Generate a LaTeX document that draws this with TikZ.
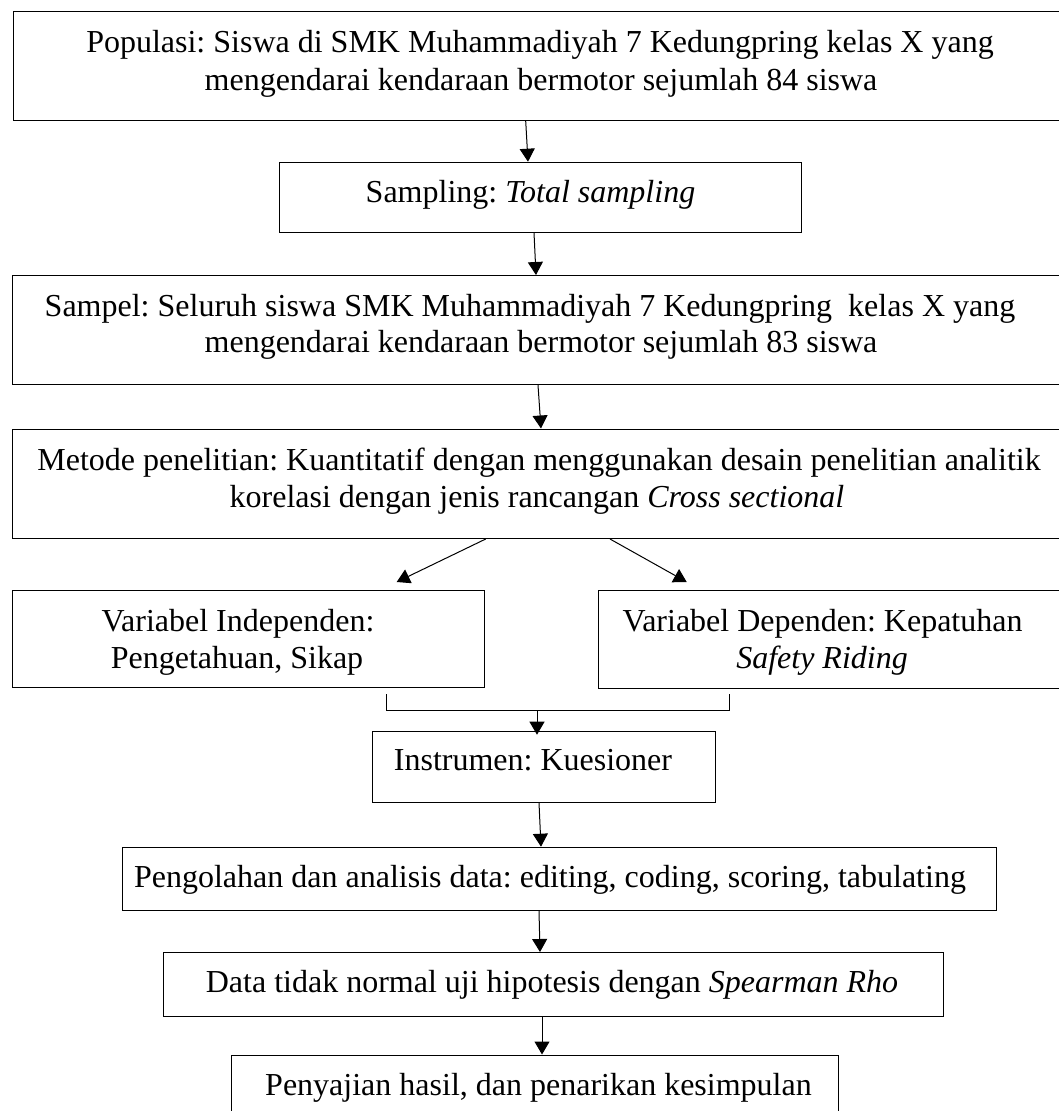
\documentclass[tikz,border=0pt]{standalone}
\usepackage{fontspec}
\setmainfont{Liberation Serif}
\usetikzlibrary{arrows.meta}
\frenchspacing
\begin{document}
\begin{tikzpicture}[x=1pt,y=-1pt,
  box/.style={draw, line width=1pt, inner sep=0pt, anchor=north west},
  txt/.style={anchor=base, inner sep=0pt, font=\fontsize{32}{38}\selectfont},
  lin/.style={line width=1pt},
  arr/.style={-{Triangle[length=13pt,width=15pt]}, line width=1pt}]
\useasboundingbox (0,0) rectangle (1059,1111);

% boxes
\node[box, minimum width=1048.7pt, minimum height=109.3pt] (b1) at (13.3,10.7) {};
\node[box, minimum width=521.7pt, minimum height=70pt] (b2) at (279,161.7) {};
\node[box, minimum width=1050pt, minimum height=109pt] (b3) at (12,275) {};
\node[box, minimum width=1050.5pt, minimum height=109.5pt] (b4) at (11.5,428.5) {};
\node[box, minimum width=472.3pt, minimum height=97pt] (b5l) at (11.7,590) {};
\node[box, minimum width=464.3pt, minimum height=97.5pt] (b5r) at (597.7,590) {};
\node[box, minimum width=343pt, minimum height=71pt] (b6) at (372,730.7) {};
\node[box, minimum width=873.9pt, minimum height=63.3pt] (b7) at (121.8,846.7) {};
\node[box, minimum width=780pt, minimum height=64pt] (b8) at (162.7,952) {};
\node[box, minimum width=607pt, minimum height=62pt] (b9) at (231,1054.5) {};

% texts
\node[txt] (t1a) at (540,52) {Populasi: Siswa di SMK Muhammadiyah 7 Kedungpring kelas X yang};
\node[txt] (t1b) at (541,90) {mengendarai kendaraan bermotor sejumlah 84 siswa};
\node[txt] (t2) at (530.5,202) {Sampling: \textit{Total sampling}};
\node[txt] (t3a) at (530,316) {Sampel: Seluruh siswa SMK Muhammadiyah 7 Kedungpring\ \ kelas X yang};
\node[txt] (t3b) at (541,352) {mengendarai kendaraan bermotor sejumlah 83 siswa};
\node[txt] (t4a) at (539,470) {Metode penelitian: Kuantitatif dengan menggunakan desain penelitian analitik};
\node[txt] (t4b) at (537,507) {korelasi dengan jenis rancangan \textit{Cross sectional}};
\node[txt] (t5a) at (238,631) {Variabel Independen:};
\node[txt] (t5b) at (237,668.5) {Pengetahuan, Sikap};
\node[txt] (t5c) at (822.6,631) {Variabel Dependen: Kepatuhan};
\node[txt] (t5d) at (822,668.5) {\textit{Safety Riding}};
\node[txt] (t6) at (533,770) {Instrumen: Kuesioner};
\node[txt] (t7) at (550,887.5) {Pengolahan dan analisis data: editing, coding, scoring, tabulating};
\node[txt] (t8) at (552,992) {Data tidak normal uji hipotesis dengan \textit{Spearman Rho}};
\node[txt] (t9) at (538.5,1095) {Penyajian hasil, dan penarikan kesimpulan};

% connectors
\draw[arr] ([xshift=512.4pt]b1.south west) -- ([xshift=249pt]b2.north west);
\draw[arr] ([xshift=255pt]b2.south west) -- ([xshift=524pt]b3.north west);
\draw[arr] ([xshift=526pt]b3.south west) -- ([xshift=529.5pt]b4.north west);
\draw[arr] ([xshift=474.2pt]b4.south west) -- ([xshift=385pt,yshift=8pt]b5l.north west);
\draw[arr] ([xshift=598.5pt]b4.south west) -- ([xshift=89pt,yshift=8pt]b5r.north west);
\draw[lin] ([xshift=374.3pt,yshift=-6pt]b5l.south west) |- ([xshift=131.3pt,yshift=-21.5pt]b5r.south west) -- ([xshift=131.3pt,yshift=-5.5pt]b5r.south west);
\coordinate (jn) at ([xshift=525.3pt,yshift=-22pt]b5l.south west);
\draw[arr] (jn) -- ([xshift=165pt,yshift=-4pt]b6.north west);
\draw[arr] ([xshift=167pt]b6.south west) -- ([xshift=419.2pt]b7.north west);
\draw[arr] ([xshift=417.2pt]b7.south west) -- ([xshift=377.3pt]b8.north west);
\draw[arr] ([xshift=379.3pt]b8.south west) -- ([xshift=311pt]b9.north west);
\end{tikzpicture}
\end{document}
